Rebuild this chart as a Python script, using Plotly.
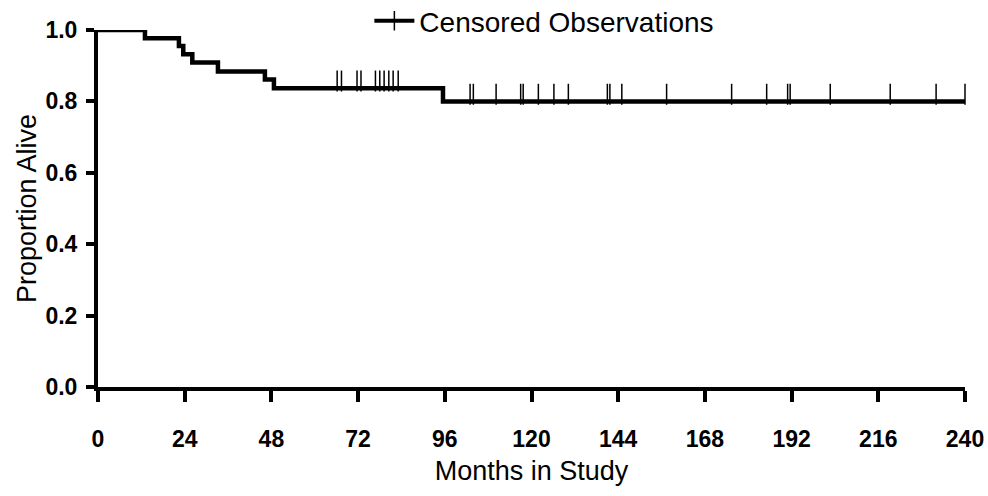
import plotly.graph_objects as go

# Kaplan-Meier step data (months, proportion alive after each event)
event_months = [13.0, 22.4, 23.6, 26.1, 33.2, 46.2, 48.7, 95.5]
survival = [0.977, 0.955, 0.932, 0.909, 0.884, 0.861, 0.837, 0.800]

# Censored observation times (months)
censored_months = [66.2, 67.4, 71.7, 72.8, 76.8, 78.0, 79.2, 80.5, 81.7, 83.1,
                   103.0, 103.9, 110.2, 117.0, 117.7, 121.9, 126.2, 130.2,
                   141.0, 141.7, 145.0, 157.4, 175.4, 185.1, 190.9, 191.6,
                   202.7, 219.3, 232.0, 240.0]

x_ticks = [0, 24, 48, 72, 96, 120, 144, 168, 192, 216, 240]
y_ticks = [0.0, 0.2, 0.4, 0.6, 0.8, 1.0]
end_month = 240

step_x = [0.0] + event_months + [end_month]
step_y = [1.0] + survival + [survival[-1]]


def surv_at(t):
    s = 1.0
    for et, sv in zip(event_months, survival):
        if et <= t:
            s = sv
    return s


cens_y = [surv_at(t) for t in censored_months]
tick_offset = 0.02  # lift tick so it sits above the curve

FONT = "Liberation Sans, Arial, Helvetica, sans-serif"

fig = go.Figure()
fig.add_trace(go.Scatter(
    x=step_x, y=step_y, mode="lines", line=dict(color="black", width=4.5, shape="hv"),
    showlegend=False, cliponaxis=False, hoverinfo="skip"))
fig.add_trace(go.Scatter(
    x=censored_months, y=[v + tick_offset for v in cens_y], mode="markers",
    marker=dict(symbol="line-ns-open", size=15, color="black",
                line=dict(color="black", width=1.5)),
    showlegend=False, cliponaxis=False))
fig.add_trace(go.Scatter(
    x=[None], y=[None], mode="lines+markers", name="Censored Observations",
    line=dict(color="black", width=4),
    marker=dict(symbol="line-ns-open", size=14, color="black",
                line=dict(color="black", width=1.5))))

fig.update_layout(
    width=988, height=496,
    margin=dict(l=98, r=23, t=30, b=109, autoexpand=False),
    paper_bgcolor="white", plot_bgcolor="white",
    font=dict(family=FONT, color="black"),
    showlegend=True,
    legend=dict(x=0.313, y=1.095, xanchor="left", yanchor="top",
                font=dict(size=28, family=FONT), bgcolor="rgba(0,0,0,0)",
                itemwidth=40, tracegroupgap=0),
    xaxis=dict(range=[0, end_month], tickvals=x_ticks, ticktext=[str(v) for v in x_ticks],
               automargin=False,
               showgrid=False, zeroline=False, showline=True, linecolor="black", linewidth=4,
               ticks="outside", ticklen=11, tickwidth=4, tickcolor="black",
               tickfont=dict(size=23, family=FONT, weight="bold"),
               ticklabelstandoff=17,
               title=dict(text="Months in Study", font=dict(size=27, family=FONT), standoff=12)),
    yaxis=dict(range=[0, 1.0], tickvals=y_ticks, ticktext=[f"{v:.1f}" for v in y_ticks],
               automargin=False,
               showgrid=False, zeroline=False, showline=True, linecolor="black", linewidth=4,
               ticks="outside", ticklen=8, tickwidth=4, tickcolor="black",
               tickfont=dict(size=23, family=FONT, weight="bold"),
               ticklabelstandoff=4,
               title=dict(text="Proportion Alive", font=dict(size=27, family=FONT), standoff=2)),
)

# remove the page's default body margin so the 988x496 figure fills the window exactly
fig.write_html("out.html", config={"displayModeBar": False},
               post_script="document.body.style.margin='0';document.body.style.overflow='hidden';")
